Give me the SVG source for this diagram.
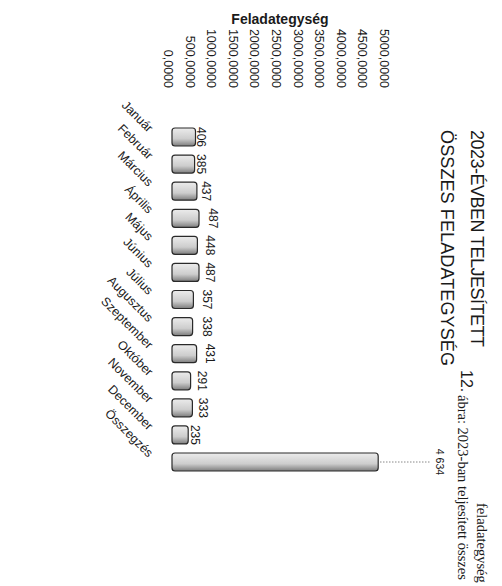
<svg xmlns="http://www.w3.org/2000/svg" width="502" height="586" viewBox="0 0 502 586">
<style>
text{font-family:"Liberation Sans","DejaVu Sans",sans-serif;fill:#1a1a1a}
.ax{font-size:12.5px;text-anchor:end}
.val{font-size:12px;text-anchor:middle}
.cat{font-size:12.5px;text-anchor:end}
.ttl{font-size:18px}
.cap{font-family:"Liberation Serif","DejaVu Serif",serif;font-size:14.5px}
.bar{fill:url(#g);stroke:#2a2a2a;stroke-width:1.2}
.lead{stroke:#888;stroke-width:1;stroke-dasharray:1.5 1.5;fill:none}
</style>
<defs>
<linearGradient id="g" x1="0" y1="0" x2="0" y2="1">
<stop offset="0" stop-color="#ececec"/>
<stop offset="0.6" stop-color="#cdcdcd"/>
<stop offset="1" stop-color="#7d7d7d"/>
</linearGradient>
</defs>
<rect width="502" height="586" fill="#fff"/>
<g id="axis-title"><text x="280" y="24" font-weight="bold" font-size="14" text-anchor="middle">Feladategység</text></g>
<g id="value-axis">
<text class="ax" x="164" y="88" transform="rotate(90 164 88)">0,0000</text>
<text class="ax" x="185.6" y="88" transform="rotate(90 185.6 88)">500,0000</text>
<text class="ax" x="207.2" y="88" transform="rotate(90 207.2 88)">1000,0000</text>
<text class="ax" x="228.8" y="88" transform="rotate(90 228.8 88)">1500,0000</text>
<text class="ax" x="250.4" y="88" transform="rotate(90 250.4 88)">2000,0000</text>
<text class="ax" x="272" y="88" transform="rotate(90 272 88)">2500,0000</text>
<text class="ax" x="293.6" y="88" transform="rotate(90 293.6 88)">3000,0000</text>
<text class="ax" x="315.2" y="88" transform="rotate(90 315.2 88)">3500,0000</text>
<text class="ax" x="336.8" y="88" transform="rotate(90 336.8 88)">4000,0000</text>
<text class="ax" x="358.4" y="88" transform="rotate(90 358.4 88)">4500,0000</text>
<text class="ax" x="380" y="88" transform="rotate(90 380 88)">5000,0000</text>
</g>
<g id="title">
<text class="ttl" x="471" y="130" textLength="217" lengthAdjust="spacing" transform="rotate(90 471 130)">2023-ÉVBEN TELJESÍTETT</text>
<text class="ttl" x="441" y="130" textLength="236" lengthAdjust="spacing" transform="rotate(90 441 130)">ÖSSZES FELADATEGYSÉG</text>
</g>
<g id="categories">
<text class="cat" x="148" y="133" transform="rotate(45 148 133)">Január</text>
<text class="cat" x="148" y="160.1" transform="rotate(45 148 160.1)">Február</text>
<text class="cat" x="148" y="187.2" transform="rotate(45 148 187.2)">Március</text>
<text class="cat" x="148" y="214.3" transform="rotate(45 148 214.3)">Április</text>
<text class="cat" x="148" y="241.3" transform="rotate(45 148 241.3)">Május</text>
<text class="cat" x="148" y="268.4" transform="rotate(45 148 268.4)">Június</text>
<text class="cat" x="148" y="295.5" transform="rotate(45 148 295.5)">Július</text>
<text class="cat" x="148" y="322.6" transform="rotate(45 148 322.6)">Augusztus</text>
<text class="cat" x="148" y="349.7" transform="rotate(45 148 349.7)">Szeptember</text>
<text class="cat" x="148" y="376.8" transform="rotate(45 148 376.8)">Október</text>
<text class="cat" x="148" y="403.8" transform="rotate(45 148 403.8)">November</text>
<text class="cat" x="148" y="430.9" transform="rotate(45 148 430.9)">December</text>
<text class="cat" x="148" y="458" transform="rotate(45 148 458)">Összegzés</text>
</g>
<g id="bars">
<rect class="bar" x="172" y="128" width="23.5" height="18" rx="3"/>
<rect class="bar" x="172" y="155.1" width="22.6" height="18" rx="3"/>
<rect class="bar" x="172" y="182.2" width="24.9" height="18" rx="3"/>
<rect class="bar" x="172" y="209.3" width="27" height="18" rx="3"/>
<rect class="bar" x="172" y="236.3" width="25.4" height="18" rx="3"/>
<rect class="bar" x="172" y="263.4" width="27" height="18" rx="3"/>
<rect class="bar" x="172" y="290.5" width="21.4" height="18" rx="3"/>
<rect class="bar" x="172" y="317.6" width="20.6" height="18" rx="3"/>
<rect class="bar" x="172" y="344.7" width="24.6" height="18" rx="3"/>
<rect class="bar" x="172" y="371.8" width="18.6" height="18" rx="3"/>
<rect class="bar" x="172" y="398.8" width="20.4" height="18" rx="3"/>
<rect class="bar" x="172" y="425.9" width="16.2" height="18" rx="3"/>
<rect class="bar" x="172" y="453" width="206.2" height="18" rx="3"/>
</g>
<g id="connectors">
<line class="lead" x1="380" y1="462" x2="430" y2="462"/>
</g>
<g id="values">
<text class="val" x="197" y="137" transform="rotate(90 197 137)">406</text>
<text class="val" x="197" y="164.1" transform="rotate(90 197 164.1)">385</text>
<text class="val" x="202" y="191.2" transform="rotate(90 202 191.2)">437</text>
<text class="val" x="209" y="218.3" transform="rotate(90 209 218.3)">487</text>
<text class="val" x="206" y="245.3" transform="rotate(90 206 245.3)">448</text>
<text class="val" x="206" y="272.4" transform="rotate(90 206 272.4)">487</text>
<text class="val" x="203" y="299.5" transform="rotate(90 203 299.5)">357</text>
<text class="val" x="203" y="326.6" transform="rotate(90 203 326.6)">338</text>
<text class="val" x="206" y="353.7" transform="rotate(90 206 353.7)">431</text>
<text class="val" x="198" y="380.8" transform="rotate(90 198 380.8)">291</text>
<text class="val" x="199" y="407.8" transform="rotate(90 199 407.8)">333</text>
<text class="val" x="191" y="434.9" transform="rotate(90 191 434.9)">235</text>
<text x="436" y="462" font-size="10.5" text-anchor="middle" transform="rotate(90 436 462)">4 634</text>
</g>
<g id="caption">
<text x="461" y="370" font-family="Liberation Serif, DejaVu Serif, serif" font-size="16" transform="rotate(90 461 370)">12.</text>
<text class="cap" x="458" y="395" transform="rotate(90 458 395)">ábra: 2023-ban teljesített összes</text>
<text class="cap" x="477" y="503" transform="rotate(90 477 503)">feladategység</text>
</g>
</svg>
